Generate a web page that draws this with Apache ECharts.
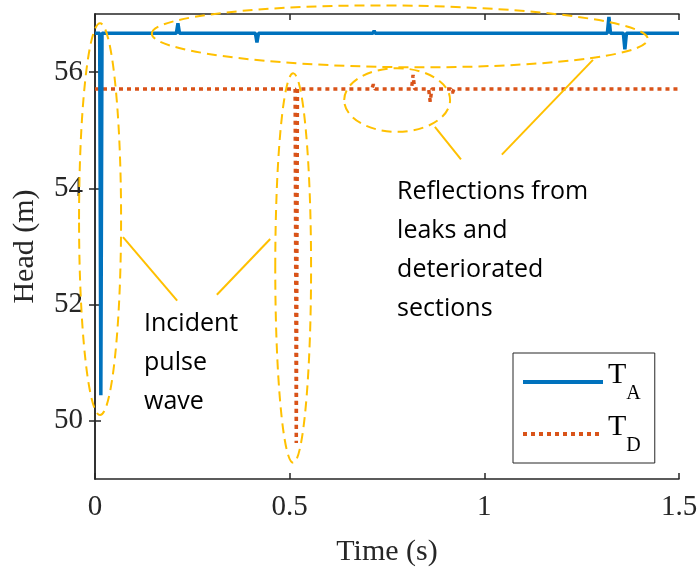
<!DOCTYPE html>
<html>
<head>
<meta charset="utf-8">
<script src="https://cdn.jsdelivr.net/npm/echarts@6/dist/echarts.min.js"></script>
<style>
html, body { margin: 0; padding: 0; background: #fff; }
#main { width: 699px; height: 568px; }
</style>
</head>
<body>
<div id="main"></div>
<script>
// head traces (time in s, head in m)
var timeA = [0, 0.012, 0.015, 0.018, 0.209, 0.213, 0.217, 0.412, 0.416, 0.420, 0.714, 0.717, 0.720, 1.316, 1.320, 1.324, 1.357, 1.361, 1.365, 1.5];
var headA = [56.67, 56.67, 50.44, 56.67, 56.67, 56.84, 56.67, 56.67, 56.51, 56.67, 56.67, 56.71, 56.67, 56.67, 56.95, 56.67, 56.67, 56.39, 56.67, 56.67];
var timeD = [0, 0.514, 0.517, 0.520, 0.711, 0.715, 0.719, 0.813, 0.817, 0.821, 0.857, 0.861, 0.865, 0.914, 0.918, 0.922, 1.5];
var headD = [55.71, 55.71, 49.62, 55.71, 55.71, 55.79, 55.71, 55.71, 55.95, 55.71, 55.71, 55.49, 55.71, 55.71, 55.64, 55.71, 55.71];
var seriesNames = ['T_A', 'T_D'];
var xTicks = [0, 0.5, 1, 1.5];
var yTicks = [50, 52, 54, 56];

function pairs(xs, ys) {
    return xs.map(function (x, i) { return [x, ys[i]]; });
}

var gold = '#FFC000';
var axisColor = '#262626';
var serif = '"Liberation Serif", "Times New Roman", serif';

var option = {
    animation: false,
    backgroundColor: '#fff',
    grid: {
        left: 95,
        right: 20,
        top: 14,
        bottom: 89,
        outerBoundsMode: 'none'
    },
    legend: {
        orient: 'vertical',
        left: 513,
        top: 353,
        padding: [7, 14, 7, 8],
        itemGap: 8,
        itemWidth: 80,
        itemHeight: 14,
        borderColor: axisColor,
        borderWidth: 1,
        backgroundColor: '#fff',
        itemStyle: {opacity: 0, borderWidth: 0},
        lineStyle: {width: 4},
        data: seriesNames,
        formatter: function (name) {
            return '{t|T}{s|' + name.split('_')[1] + '}';
        },
        textStyle: {
            rich: {
                t: {fontSize: 30, fontFamily: serif, color: '#000', lineHeight: 44, verticalAlign: 'top'},
                s: {fontSize: 20, fontFamily: serif, color: '#000', lineHeight: 44, verticalAlign: 'bottom'}
            }
        }
    },
    xAxis: [
        {
            type: 'value',
            min: 0,
            max: 1.5,
            interval: 0.5,
            name: 'Time (s)',
            nameLocation: 'middle',
            nameGap: 58,
            nameTextStyle: {fontSize: 30, fontFamily: serif, color: axisColor},
            axisLine: {show: true, lineStyle: {color: axisColor, width: 1.5}},
            axisTick: {show: true, inside: true, length: 6, lineStyle: {color: axisColor, width: 1.5}},
            axisLabel: {
                fontSize: 29, fontFamily: serif, color: axisColor, margin: 14,
                customValues: xTicks
            },
            splitLine: {show: false}
        },
        {
            type: 'value',
            position: 'top',
            min: 0,
            max: 1.5,
            interval: 0.5,
            axisLine: {show: true, lineStyle: {color: axisColor, width: 1.5}},
            axisTick: {show: true, inside: true, length: 6, lineStyle: {color: axisColor, width: 1.5}},
            axisLabel: {show: false},
            splitLine: {show: false}
        }
    ],
    yAxis: [
        {
            type: 'value',
            min: 49,
            max: 57,
            name: 'Head (m)',
            nameLocation: 'middle',
            nameGap: 55,
            nameTextStyle: {fontSize: 30, fontFamily: serif, color: axisColor},
            axisLine: {show: true, lineStyle: {color: axisColor, width: 1.5}},
            axisTick: {show: true, inside: true, length: 6, lineStyle: {color: axisColor, width: 1.5}, customValues: yTicks},
            axisLabel: {fontSize: 29, fontFamily: serif, color: axisColor, margin: 12, customValues: yTicks},
            splitLine: {show: false}
        },
        {
            type: 'value',
            position: 'right',
            min: 49,
            max: 57,
            axisLine: {show: true, lineStyle: {color: axisColor, width: 1.5}},
            axisTick: {show: true, inside: true, length: 6, lineStyle: {color: axisColor, width: 1.5}, customValues: yTicks},
            axisLabel: {show: false},
            splitLine: {show: false}
        }
    ],
    series: [
        {
            name: seriesNames[0],
            type: 'line',
            xAxisIndex: 0,
            yAxisIndex: 0,
            symbol: 'none',
            color: '#0072BD',
            lineStyle: {color: '#0072BD', width: 3.5},
            data: pairs(timeA, headA),
            z: 3
        },
        {
            name: seriesNames[1],
            type: 'line',
            xAxisIndex: 0,
            yAxisIndex: 0,
            symbol: 'none',
            color: '#D95319',
            lineStyle: {color: '#D95319', width: 3.5, type: [4, 4], cap: 'butt'},
            data: pairs(timeD, headD),
            z: 2
        }
    ]
};

var chart = echarts.init(document.getElementById('main'));
chart.setOption(option);

// annotations, anchored in data units
function px(t, h) { return chart.convertToPixel({seriesIndex: 0}, [t, h]); }

var ellipses = [
    {c: [0.013, 53.47], r: [0.054, 3.37], rot: 0},
    {c: [0.509, 52.63], r: [0.046, 3.35], rot: 0},
    {c: [0.783, 56.615], r: [0.637, 0.53], rot: -0.011},
    {c: [0.776, 55.52], r: [0.136, 0.547], rot: 0}
];
var leaders = [
    [[0.072, 53.16], [0.211, 52.07]],
    [[0.313, 52.17], [0.450, 53.13]],
    [[0.873, 55.06], [0.940, 54.50]],
    [[1.279, 56.21], [1.045, 54.58]]
];
var notes = [
    {at: [0.126, 52.0], text: 'Incident\npulse\nwave'},
    {at: [0.776, 54.27], text: 'Reflections from\nleaks and\ndeteriorated\nsections'}
];

var graphics = [];
ellipses.forEach(function (e) {
    var c = px(e.c[0], e.c[1]);
    var corner = px(e.c[0] + e.r[0], e.c[1] - e.r[1]);
    graphics.push({
        type: 'ellipse',
        shape: {cx: c[0], cy: c[1], rx: corner[0] - c[0], ry: corner[1] - c[1]},
        originX: c[0],
        originY: c[1],
        rotation: e.rot,
        style: {fill: 'none', stroke: gold, lineWidth: 2, lineDash: [10, 6]},
        z: 50
    });
});
leaders.forEach(function (l) {
    var a = px(l[0][0], l[0][1]);
    var b = px(l[1][0], l[1][1]);
    graphics.push({
        type: 'line',
        shape: {x1: a[0], y1: a[1], x2: b[0], y2: b[1]},
        style: {stroke: gold, lineWidth: 2},
        z: 50
    });
});
notes.forEach(function (n) {
    var p = px(n.at[0], n.at[1]);
    graphics.push({
        type: 'text',
        x: p[0],
        y: p[1],
        style: {
            text: n.text,
            fontSize: 25,
            fontFamily: '"Open Sans", "Noto Sans", sans-serif',
            lineHeight: 39,
            fill: '#000',
            align: 'left',
            verticalAlign: 'top'
        },
        z: 50
    });
});
chart.setOption({graphic: graphics});
</script>
</body>
</html>
